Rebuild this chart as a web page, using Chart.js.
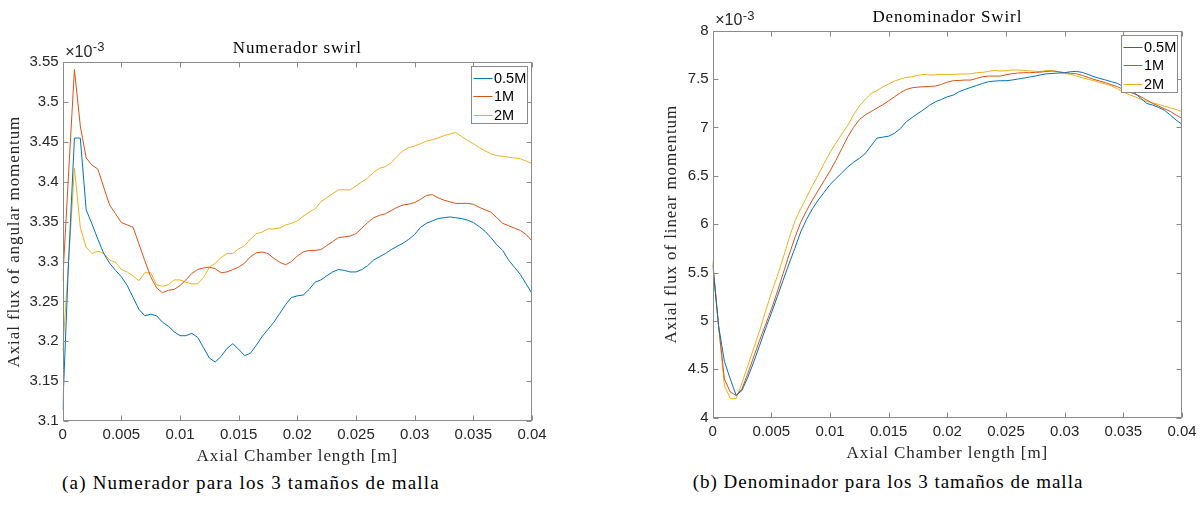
<!DOCTYPE html>
<html>
<head>
<meta charset="utf-8">
<script src="https://cdn.jsdelivr.net/npm/chart.js@4"></script>
<style>
body { margin: 0; background: #fff; width: 1202px; height: 505px; position: relative; overflow: hidden; }
canvas { position: absolute; top: 0; }
.cap { position: absolute; font-family: "Liberation Serif", serif; font-size: 19px; color: #000; white-space: nowrap; transform: translate(-50%, -50%); }
</style>
</head>
<body>
<canvas id="numChart" width="600" height="470" style="left:0"></canvas>
<canvas id="denChart" width="602" height="470" style="left:600px"></canvas>
<div class="cap" style="left:251px;top:483px;letter-spacing:1.2px">(a) Numerador para los 3 tamaños de malla</div>
<div class="cap" style="left:888px;top:482px;letter-spacing:1px">(b) Denominador para los 3 tamaños de malla</div>
<script>
// axial positions [m]
const axialPos = [
  0, 0.0005, 0.001, 0.0015, 0.002, 0.0025, 0.003, 0.0035, 0.004, 0.0045,
  0.005, 0.0055, 0.006, 0.0065, 0.007, 0.0075, 0.008, 0.0085, 0.009, 0.0095,
  0.01, 0.0105, 0.011, 0.0115, 0.012, 0.0125, 0.013, 0.0135, 0.014, 0.0145,
  0.015, 0.0155, 0.016, 0.0165, 0.017, 0.0175, 0.018, 0.0185, 0.019, 0.0195,
  0.02, 0.0205, 0.021, 0.0215, 0.022, 0.0225, 0.023, 0.0235, 0.024, 0.0245,
  0.025, 0.0255, 0.026, 0.0265, 0.027, 0.0275, 0.028, 0.0285, 0.029, 0.0295,
  0.03, 0.0305, 0.031, 0.0315, 0.032, 0.0325, 0.033, 0.0335, 0.034, 0.0345,
  0.035, 0.0355, 0.036, 0.0365, 0.037, 0.0375, 0.038, 0.0385, 0.039, 0.0395,
  0.04
];
const meshLabels = ['0.5M', '1M', '2M'];
const meshColors = ['#0072BD', '#D95319', '#EDB120'];

// Numerador (x1e-3)
const num05 = [
  3.114, 3.30, 3.455, 3.455, 3.365, 3.347, 3.328, 3.310, 3.298, 3.289,
  3.281, 3.270, 3.255, 3.240, 3.232, 3.234, 3.232, 3.224, 3.219, 3.212,
  3.207, 3.207, 3.210, 3.205, 3.192, 3.179, 3.174, 3.181, 3.191, 3.197,
  3.190, 3.182, 3.185, 3.195, 3.206, 3.215, 3.224, 3.235, 3.246, 3.255,
  3.257, 3.258, 3.265, 3.274, 3.277, 3.282, 3.287, 3.290, 3.289, 3.287,
  3.287, 3.290, 3.295, 3.302, 3.306, 3.310, 3.315, 3.319, 3.323, 3.328,
  3.334, 3.343, 3.348, 3.351, 3.354, 3.355, 3.356, 3.355, 3.354, 3.352,
  3.349, 3.344, 3.338, 3.330, 3.321, 3.314, 3.302, 3.293, 3.284, 3.272,
  3.260
];
const num1 = [
  3.276, 3.41, 3.541, 3.470, 3.430, 3.421, 3.416, 3.393, 3.371, 3.360,
  3.349, 3.346, 3.343, 3.322, 3.301, 3.281, 3.267, 3.261, 3.264, 3.265,
  3.270, 3.277, 3.285, 3.290, 3.292, 3.293, 3.291, 3.286, 3.287, 3.290,
  3.293, 3.298, 3.306, 3.311, 3.312, 3.310, 3.304, 3.299, 3.296, 3.300,
  3.307, 3.312, 3.314, 3.314, 3.315, 3.320, 3.325, 3.330, 3.331, 3.332,
  3.335, 3.342, 3.349, 3.355, 3.358, 3.360, 3.364, 3.368, 3.371, 3.372,
  3.374, 3.378, 3.383, 3.384, 3.380, 3.377, 3.375, 3.373, 3.373, 3.373,
  3.372, 3.368, 3.365, 3.362, 3.355, 3.348, 3.345, 3.342, 3.339, 3.334,
  3.326
];
const num2 = [
  3.187, 3.30, 3.417, 3.343, 3.318, 3.310, 3.313, 3.310, 3.302, 3.299,
  3.290, 3.287, 3.282, 3.276, 3.286, 3.286, 3.271, 3.269, 3.271, 3.277,
  3.277, 3.274, 3.272, 3.272, 3.280, 3.293, 3.298, 3.305, 3.310, 3.310,
  3.316, 3.320, 3.328, 3.335, 3.337, 3.341, 3.341, 3.342, 3.346, 3.348,
  3.351, 3.357, 3.362, 3.366, 3.375, 3.380, 3.385, 3.390, 3.390, 3.390,
  3.395, 3.400, 3.405, 3.412, 3.417, 3.419, 3.424, 3.432, 3.439, 3.443,
  3.445, 3.448, 3.451, 3.453, 3.455, 3.458, 3.460, 3.462, 3.457, 3.452,
  3.448, 3.443, 3.439, 3.435, 3.433, 3.432, 3.431, 3.430, 3.429, 3.426,
  3.423
];

// Denominador (x1e-3)
const den05 = [
  5.58, 4.95, 4.58, 4.40, 4.23, 4.283, 4.42, 4.576, 4.748, 4.92,
  5.08, 5.25, 5.42, 5.59, 5.75, 5.92, 6.05, 6.16, 6.25, 6.33,
  6.41, 6.47, 6.53, 6.59, 6.64, 6.68, 6.73, 6.81, 6.89, 6.90,
  6.91, 6.94, 6.99, 7.059, 7.103, 7.145, 7.186, 7.231, 7.266, 7.29,
  7.317, 7.334, 7.369, 7.393, 7.414, 7.434, 7.455, 7.472, 7.479, 7.483,
  7.483, 7.49, 7.50, 7.51, 7.521, 7.531, 7.545, 7.555, 7.559, 7.562,
  7.566, 7.576, 7.579, 7.569, 7.548, 7.524, 7.507, 7.49, 7.472, 7.455,
  7.421, 7.386, 7.352, 7.30, 7.248, 7.231, 7.207, 7.179, 7.128, 7.076,
  7.034
];
const den1 = [
  5.60, 4.95, 4.40, 4.265, 4.23, 4.30, 4.46, 4.63, 4.80, 4.96,
  5.12, 5.30, 5.49, 5.68, 5.86, 6.02, 6.14, 6.25, 6.35, 6.45,
  6.55, 6.66, 6.78, 6.90, 7.00, 7.08, 7.13, 7.165, 7.20, 7.235,
  7.276, 7.317, 7.359, 7.393, 7.41, 7.417, 7.421, 7.424, 7.428, 7.445,
  7.469, 7.483, 7.486, 7.49, 7.49, 7.507, 7.524, 7.531, 7.531, 7.531,
  7.545, 7.555, 7.562, 7.566, 7.566, 7.569, 7.572, 7.579, 7.583, 7.576,
  7.566, 7.559, 7.555, 7.538, 7.517, 7.497, 7.479, 7.462, 7.441, 7.421,
  7.393, 7.369, 7.345, 7.317, 7.283, 7.248, 7.221, 7.193, 7.166, 7.128,
  7.093
];
const den2 = [
  5.63, 4.95, 4.33, 4.197, 4.197, 4.36, 4.54, 4.72, 4.90, 5.10,
  5.29, 5.46, 5.65, 5.85, 6.03, 6.16, 6.28, 6.40, 6.51, 6.63,
  6.74, 6.84, 6.93, 7.02, 7.13, 7.22, 7.29, 7.35, 7.38, 7.42,
  7.45, 7.48, 7.50, 7.517, 7.524, 7.538, 7.548, 7.541, 7.545, 7.548,
  7.548, 7.548, 7.552, 7.552, 7.555, 7.566, 7.569, 7.579, 7.59, 7.583,
  7.586, 7.593, 7.593, 7.59, 7.586, 7.579, 7.579, 7.59, 7.586, 7.572,
  7.559, 7.548, 7.531, 7.514, 7.497, 7.483, 7.466, 7.448, 7.428, 7.40,
  7.366, 7.338, 7.317, 7.29, 7.269, 7.255, 7.238, 7.221, 7.203, 7.186,
  7.162
];

const fmt = v => String(Number(v.toFixed(4)));
const serif = '17px "Liberation Serif"';

// MATLAB-like box, inner ticks, titles, exponent and legend
const matlabAxes = {
  id: 'matlabAxes',
  afterDraw(chart, args, o) {
    const {ctx, chartArea: a, scales: {x, y}} = chart;
    ctx.save();
    ctx.strokeStyle = '#8a8a8a';
    ctx.lineWidth = 1;
    const L = Math.round(a.left) + 0.5, R = Math.round(a.right) - 0.5;
    const T = Math.round(a.top) + 0.5, B = Math.round(a.bottom) - 0.5;
    ctx.strokeRect(L, T, R - L, B - T);
    ctx.beginPath();
    x.ticks.forEach(t => {
      const px = Math.round(x.getPixelForValue(t.value)) + 0.5;
      ctx.moveTo(px, B); ctx.lineTo(px, B - 5);
      ctx.moveTo(px, T); ctx.lineTo(px, T + 5);
    });
    y.ticks.forEach(t => {
      const py = Math.round(y.getPixelForValue(t.value)) + 0.5;
      ctx.moveTo(L, py); ctx.lineTo(L + 5, py);
      ctx.moveTo(R, py); ctx.lineTo(R - 5, py);
    });
    ctx.stroke();

    // serif texts (title and axis labels)
    ctx.letterSpacing = '0.9px';
    ctx.font = serif;
    ctx.fillStyle = '#000';
    ctx.textAlign = 'center';
    ctx.textBaseline = 'alphabetic';
    ctx.fillText(o.title, (a.left + a.right) / 2, a.top - 9);
    ctx.fillStyle = '#262626';
    ctx.textBaseline = 'middle';
    ctx.fillText('Axial Chamber length [m]', (a.left + a.right) / 2, a.bottom + 36);
    ctx.save();
    ctx.translate(o.yTitleX, (a.top + a.bottom) / 2);
    ctx.rotate(-Math.PI / 2);
    ctx.fillText(o.yTitle, 0, 0);
    ctx.restore();
    ctx.letterSpacing = '0px';

    // exponent
    ctx.textAlign = 'left';
    ctx.textBaseline = 'alphabetic';
    ctx.font = '16px "Liberation Sans"';
    ctx.fillText('\u00d710', a.left + 2.5, a.top - 5.5);
    const w = ctx.measureText('\u00d710').width;
    ctx.font = '13px "Liberation Sans"';
    ctx.fillText('-3', a.left + 3 + w, a.top - 11);

    // legend
    const bw = 56, bh = 57;
    const bx = Math.round(a.right - 5 - bw) + 0.5, by = Math.round(a.top + 4) + 0.5;
    ctx.fillStyle = '#fff';
    ctx.fillRect(bx, by, bw, bh);
    ctx.strokeStyle = '#8a8a8a';
    ctx.strokeRect(bx, by, bw, bh);
    ctx.font = '14.5px "Liberation Sans"';
    ctx.textBaseline = 'middle';
    [11.5, 29.5, 48].forEach((dy, i) => {
      const ly = Math.round(by + dy) + 0.5;
      ctx.strokeStyle = meshColors[i];
      ctx.beginPath();
      ctx.moveTo(bx + 2, ly); ctx.lineTo(bx + 21, ly);
      ctx.stroke();
      ctx.fillStyle = '#000';
      ctx.fillText(meshLabels[i], bx + 22.5, ly + 0.5);
    });
    ctx.restore();
  }
};

function makeChart(id, series, cfg) {
  const ctx = document.getElementById(id).getContext('2d');
  return new Chart(ctx, {
    type: 'line',
    data: {
      datasets: series.map((s, i) => ({
        label: meshLabels[i],
        data: axialPos.map((xv, k) => ({x: xv, y: s[k]})),
        borderColor: meshColors[i],
        borderWidth: 1,
        pointRadius: 0,
        fill: false,
        tension: 0
      }))
    },
    options: {
      responsive: false,
      devicePixelRatio: 1,
      animation: false,
      events: [],
      layout: {padding: cfg.pad},
      plugins: {
        legend: {display: false},
        tooltip: {enabled: false},
        matlabAxes: {title: cfg.title, yTitle: cfg.yTitle, yTitleX: cfg.yTitleX}
      },
      scales: {
        x: {
          type: 'linear', min: 0, max: 0.04,
          grid: {display: false, drawTicks: false},
          border: {display: false},
          ticks: {stepSize: 0.005, padding: 5, color: '#262626', maxRotation: 0,
            font: {family: 'Liberation Sans', size: 15}, callback: v => fmt(v)},
          afterFit: s => { s.height = cfg.xH; }
        },
        y: {
          min: cfg.yMin, max: cfg.yMax,
          grid: {display: false, drawTicks: false},
          border: {display: false},
          ticks: {stepSize: cfg.yStep, padding: 4, color: '#262626',
            font: {family: 'Liberation Sans', size: 15}, callback: v => fmt(v)},
          afterFit: s => { s.width = cfg.yW; }
        }
      }
    },
    plugins: [matlabAxes]
  });
}

makeChart('numChart', [num05, num1, num2], {
  title: 'Numerador swirl',
  yTitle: 'Axial flux of angular momentum',
  yTitleX: 14.7,
  yMin: 3.1, yMax: 3.55, yStep: 0.05,
  pad: {left: 0, top: 62.3, right: 68, bottom: 0},
  yW: 62.7, xH: 49
});

makeChart('denChart', [den05, den1, den2], {
  title: 'Denominador Swirl',
  yTitle: 'Axial flux of linear momentum',
  yTitleX: 72,
  yMin: 4, yMax: 8, yStep: 0.5,
  pad: {left: 57, top: 30.7, right: 20, bottom: 0},
  yW: 55.7, xH: 52.3
});
</script>
</body>
</html>
